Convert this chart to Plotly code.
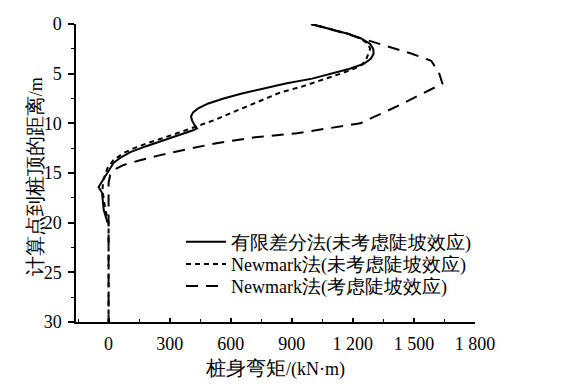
import plotly.graph_objects as go

# ---- data ----
fdm_depth = [0, 0.5, 1.0, 1.5, 2.0, 2.5, 3.0, 3.5, 4.0, 4.5, 5.0, 5.5, 6.0, 6.5, 7.0, 7.5,
             8.0, 8.5, 8.9, 9.3, 9.7, 10.1, 10.5, 10.7, 11.2, 11.7, 12.3, 12.9, 13.5, 14.0,
             15.0, 16.4, 17.0, 18.7, 20.0]
fdm_moment = [995, 1095, 1180, 1245, 1285, 1300, 1302, 1288, 1255, 1185, 1095, 1000, 870, 760, 655, 565,
              490, 440, 415, 405, 410, 420, 434, 415, 340, 270, 185, 107, 55, 24,
              -6, -49, -32, -24, -5]

nm_depth = [0, 0.5, 1.0, 1.5, 2.0, 2.5, 3.1, 3.6, 4.1, 4.6, 5.0, 5.6, 6.3, 6.9, 7.6, 8.3, 9.0, 9.7,
            10.3, 10.9, 11.5, 12.0, 12.5, 13.0, 13.7, 14.5, 15.7, 16.7, 17.7, 18.7, 20.0, 25.0, 30.0]
nm_moment = [995, 1095, 1180, 1240, 1275, 1285, 1276, 1265, 1245, 1195, 1140, 1055, 950, 843, 760, 680, 600, 516,
             434, 352, 265, 190, 125, 73, 24, -5, -26, -30, -24, -16, 0, 0, 0]

nms_depth = [0, 0.5, 1.0, 1.4, 1.8, 2.4, 3.0, 3.7, 4.9, 6.0, 7.3, 8.3, 9.45, 10.0, 10.5, 11.0, 11.4,
             12.0, 12.6, 13.2, 13.8, 14.2, 14.6, 15.2, 16.0, 20.0, 25.0, 30.0]
nms_moment = [995, 1090, 1170, 1235, 1300, 1395, 1490, 1585, 1623, 1640, 1514, 1416, 1293, 1237, 1080, 925, 720,
              530, 387, 254, 141, 73, 33, 8, 0, 0, 0, 0]

names = ["有限差分法(未考虑陡坡效应)", "Newmark法(未考虑陡坡效应)", "Newmark法(考虑陡坡效应)"]

x_tickvals = [0, 300, 600, 900, 1200, 1500, 1800]
x_ticktext = ["0", "300", "600", "900", "1 200", "1 500", "1 800"]
y_tickvals = [0, 5, 10, 15, 20, 25, 30]

x_title = "桩身弯矩/(kN·m)"
y_title = "计算点到桩顶的距离/m"

FONT = "Liberation Serif"
FS = 18
CJK_FS = 20


def cjk_big(s, size):
    """wrap CJK characters in a larger span (Latin text stays at base size)"""
    out, buf, is_cjk = [], "", None
    for ch in s:
        c = ord(ch) > 0x2E80
        if is_cjk is None or c == is_cjk:
            buf += ch
        else:
            out.append(f'<span style="font-size:{size}px">{buf}</span>' if is_cjk else buf)
            buf = ch
        is_cjk = c
    out.append(f'<span style="font-size:{size}px">{buf}</span>' if is_cjk else buf)
    return "".join(out)


dashes = ["solid", "5px,4px", "12px,8px"]
series = [(fdm_moment, fdm_depth), (nm_moment, nm_depth), (nms_moment, nms_depth)]
legend_ids = ["legend", "legend2", "legend3"]

fig = go.Figure()
for (xv, yv), nm, ds, lg in zip(series, names, dashes, legend_ids):
    fig.add_trace(go.Scatter(x=xv, y=yv, mode="lines", name=cjk_big(nm, 19), legend=lg,
                             line=dict(color="black", width=2, dash=ds)))

leg_common = dict(x=0.2632, xanchor="left", yanchor="middle", bgcolor="rgba(0,0,0,0)",
                  font=dict(size=FS, family=FONT, color="black"), itemwidth=40)
fig.update_layout(
    width=557, height=381,
    margin=dict(l=68, r=90, t=16, b=67),
    paper_bgcolor="white", plot_bgcolor="white",
    font=dict(family=FONT, size=FS, color="black"),
    showlegend=True,
    legend=dict(y=0.268, **leg_common),
    legend2=dict(y=0.194, **leg_common),
    legend3=dict(y=0.120, **leg_common),
    annotations=[dict(text=cjk_big(y_title, CJK_FS), textangle=-90, xref="paper", yref="paper",
                      x=-0.102, y=0.487, xanchor="center", yanchor="middle", showarrow=False,
                      font=dict(size=FS, family=FONT, color="black"))],
)
fig.update_xaxes(
    range=[-160, 1800], tickvals=x_tickvals, ticktext=x_ticktext, automargin=False,
    showgrid=False, zeroline=False, showline=True, linecolor="black", linewidth=1.5,
    ticks="inside", ticklen=4, tickwidth=1.5, tickcolor="black", ticklabelstandoff=5,
    minor=dict(ticks="inside", ticklen=3, dtick=150, tick0=0, tickcolor="black", tickwidth=1.2),
    title=dict(text=cjk_big(x_title, CJK_FS), standoff=9, font=dict(size=FS, color="black")),
    tickfont=dict(size=FS, color="black"),
)
fig.update_yaxes(
    range=[30, 0], tickvals=y_tickvals, automargin=False,
    showgrid=False, zeroline=False, showline=True, linecolor="black", linewidth=1.5,
    ticks="outside", ticklen=6, tickwidth=1.5, tickcolor="black", ticklabelstandoff=3,
    minor=dict(ticks="outside", ticklen=3, dtick=2.5, tick0=0, tickcolor="black", tickwidth=1.2),
    tickfont=dict(size=FS, color="black"),
)

fig.write_html("out.html")
